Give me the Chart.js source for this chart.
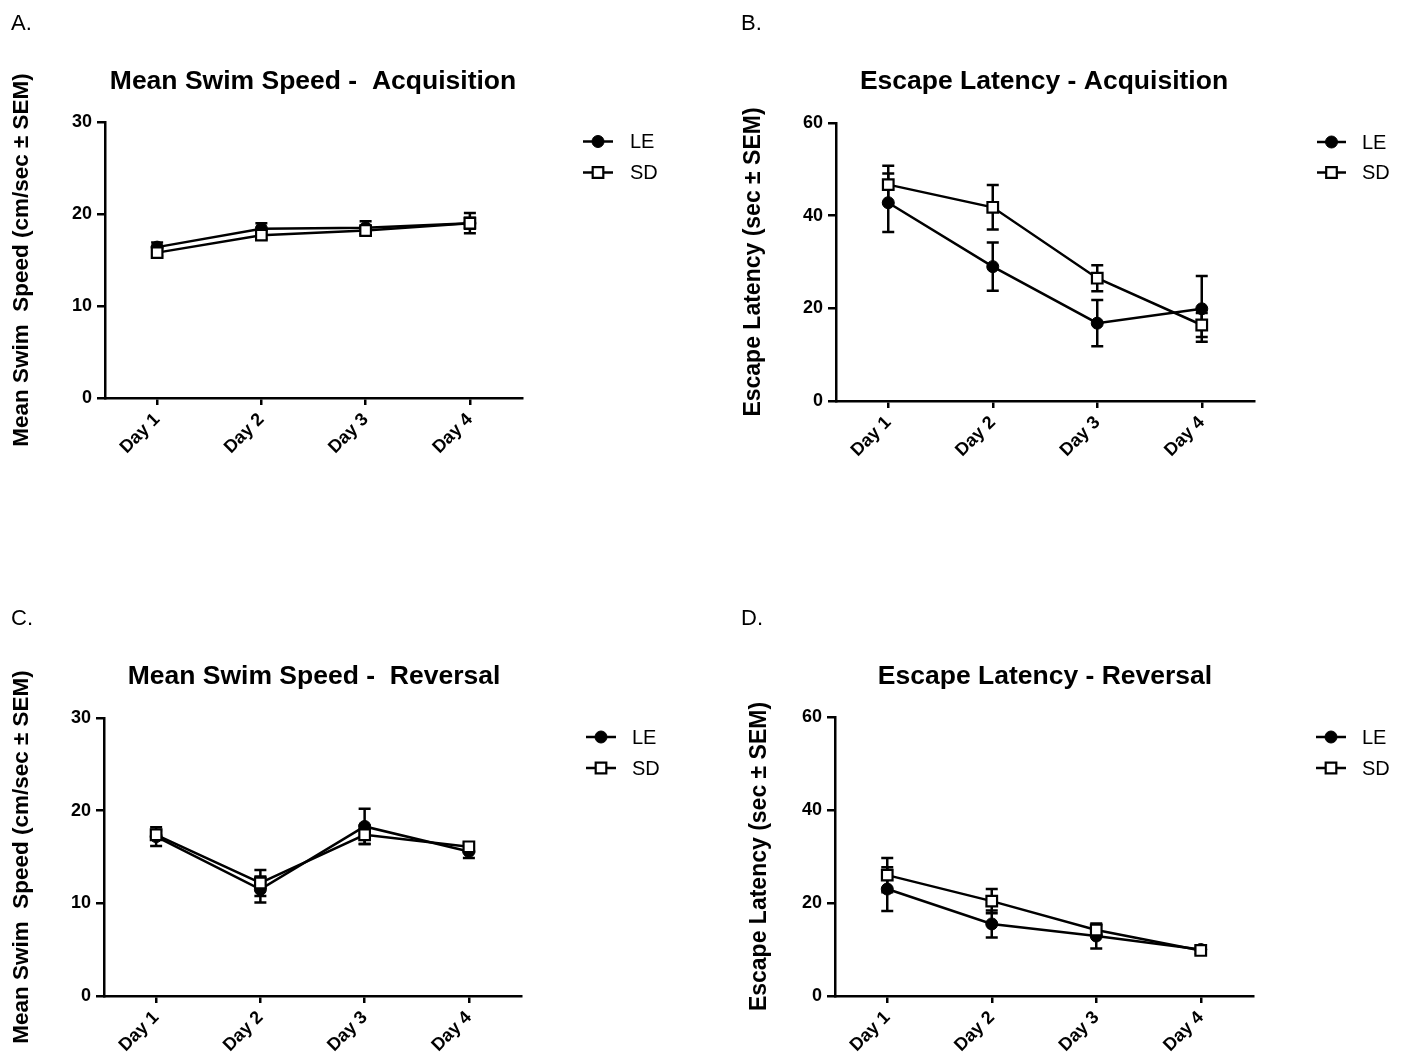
<!DOCTYPE html>
<html><head><meta charset="utf-8">
<script src="https://cdn.jsdelivr.net/npm/chart.js@4.4.1/dist/chart.umd.min.js"></script>
<style>
html,body{margin:0;padding:0;background:#fff;}
body{width:1410px;height:1061px;position:relative;overflow:hidden;}
canvas{position:absolute;}
</style></head><body>
<canvas id="cA" width="705" height="530" style="left:0px;top:0px"></canvas>
<canvas id="cB" width="705" height="530" style="left:705px;top:0px"></canvas>
<canvas id="cC" width="705" height="531" style="left:0px;top:530px"></canvas>
<canvas id="cD" width="705" height="531" style="left:705px;top:530px"></canvas>
<script>
// ---------------- DATA ----------------
const days = ['Day 1', 'Day 2', 'Day 3', 'Day 4'];
const seriesNames = ['LE', 'SD'];

// A. Mean Swim Speed - Acquisition (cm/sec)
const swimAcqLE = [16.4, 18.4, 18.5, 19.0];
const swimAcqLESem = [0.5, 0.6, 0.7, 0.6];
const swimAcqSD = [15.8, 17.7, 18.2, 19.0];
const swimAcqSDSem = [0.4, 0.4, 0.4, 1.1];

// B. Escape Latency - Acquisition (sec)
const latAcqLE = [42.8, 29.0, 16.8, 19.9];
const latAcqLESem = [6.3, 5.2, 5.0, 7.1];
const latAcqSD = [46.7, 41.8, 26.5, 16.4];
const latAcqSDSem = [4.1, 4.8, 2.8, 2.6];

// C. Mean Swim Speed - Reversal (cm/sec)
const swimRevLE = [17.2, 11.5, 18.3, 15.6];
const swimRevLESem = [1.0, 1.4, 1.9, 0.7];
const swimRevSD = [17.4, 12.2, 17.4, 16.1];
const swimRevSDSem = [0.5, 1.4, 1.0, 0.4];

// D. Escape Latency - Reversal (sec)
const latRevLE = [23.0, 15.5, 12.9, 10.0];
const latRevLESem = [4.7, 2.9, 2.7, 0.8];
const latRevSD = [26.0, 20.4, 14.2, 9.8];
const latRevSDSem = [3.7, 2.6, 1.0, 0.8];

const swimTicksMax = 30, swimTickStep = 10;
const latTicksMax = 60, latTickStep = 20;

// ---------------- LAYOUT ----------------
const FONT = "'Liberation Sans', Arial, Helvetica, sans-serif";
Chart.defaults.font.family = FONT;
Chart.defaults.color = '#000';

const panels = [
  {id:'cA', ox:0, oy:0, h:530, letter:'A.', title:'Mean Swim Speed -  Acquisition',
   yTitle:'Mean Swim  Speed (cm/sec \u00B1 SEM)', yTitleSize:22.5, yMax:swimTicksMax, yStep:swimTickStep,
   le:swimAcqLE, leSem:swimAcqLESem, sd:swimAcqSD, sdSem:swimAcqSDSem,
   area:{l:105,t:122,r:522,b:398}, yTitleX:22, titleX:313, titleY:89, letterX:11, letterY:30,
   leg:{x1:583, x2:613, tx:630, y1:141.5, y2:172.5}},
  {id:'cB', ox:705, oy:0, h:530, letter:'B.', title:'Escape Latency - Acquisition',
   yTitle:'Escape Latency (sec \u00B1 SEM)', yTitleSize:23, yMax:latTicksMax, yStep:latTickStep,
   le:latAcqLE, leSem:latAcqLESem, sd:latAcqSD, sdSem:latAcqSDSem,
   area:{l:836,t:123,r:1254,b:401}, yTitleX:754, titleX:1044, titleY:89, letterX:741, letterY:30,
   leg:{x1:1317, x2:1346, tx:1362, y1:142, y2:172.5}},
  {id:'cC', ox:0, oy:530, h:531, letter:'C.', title:'Mean Swim Speed -  Reversal',
   yTitle:'Mean Swim  Speed (cm/sec \u00B1 SEM)', yTitleSize:22.5, yMax:swimTicksMax, yStep:swimTickStep,
   le:swimRevLE, leSem:swimRevLESem, sd:swimRevSD, sdSem:swimRevSDSem,
   area:{l:104,t:718,r:521,b:996}, yTitleX:22, titleX:314, titleY:684, letterX:11, letterY:625,
   leg:{x1:586, x2:616, tx:632, y1:737, y2:768}},
  {id:'cD', ox:705, oy:530, h:531, letter:'D.', title:'Escape Latency - Reversal',
   yTitle:'Escape Latency (sec \u00B1 SEM)', yTitleSize:23, yMax:latTicksMax, yStep:latTickStep,
   le:latRevLE, leSem:latRevLESem, sd:latRevSD, sdSem:latRevSDSem,
   area:{l:835,t:717,r:1253,b:996}, yTitleX:760, titleX:1045, titleY:684, letterX:741, letterY:625,
   leg:{x1:1316, x2:1346, tx:1362, y1:737, y2:768}}
];

// ---------------- PLUGINS ----------------
const errorBars = {
  id: 'errorBars',
  beforeDatasetDraw(chart, args) {
    const ds = chart.data.datasets[args.index];
    if (!ds.sem) return;
    const ys = chart.scales.y, ctx = chart.ctx;
    ctx.save();
    ctx.strokeStyle = '#000';
    ctx.lineWidth = 2.5;
    args.meta.data.forEach((pt, i) => {
      const v = ds.data[i], e = ds.sem[i];
      const yT = ys.getPixelForValue(v + e), yB = ys.getPixelForValue(v - e);
      const x = pt.x, cw = 6;
      ctx.beginPath();
      ctx.moveTo(x, yT); ctx.lineTo(x, yB);
      ctx.moveTo(x - cw, yT); ctx.lineTo(x + cw, yT);
      ctx.moveTo(x - cw, yB); ctx.lineTo(x + cw, yB);
      ctx.stroke();
    });
    ctx.restore();
  }
};

const panelText = {
  id: 'panelText',
  afterDraw(chart, args, opts) {
    const p = opts.panel, ctx = chart.ctx;
    ctx.save();
    ctx.fillStyle = '#000';
    ctx.textBaseline = 'alphabetic';
    // panel letter
    ctx.font = '22px ' + FONT;
    ctx.textAlign = 'left';
    ctx.fillText(p.letter, p.letterX - p.ox, p.letterY - p.oy);
    // title
    ctx.font = 'bold 26.5px ' + FONT;
    ctx.textAlign = 'center';
    ctx.fillText(p.title, p.titleX - p.ox, p.titleY - p.oy);
    // legend
    const rows = [
      {name: seriesNames[0], y: p.leg.y1, style: 'circle', r: 6, fill: '#000', bw: 1},
      {name: seriesNames[1], y: p.leg.y2, style: 'rect', r: 7.5, fill: '#fff', bw: 2.2}
    ];
    rows.forEach(row => {
      const y = row.y - p.oy;
      ctx.strokeStyle = '#000';
      ctx.lineWidth = 2.5;
      ctx.beginPath();
      ctx.moveTo(p.leg.x1 - p.ox, y); ctx.lineTo(p.leg.x2 - p.ox, y);
      ctx.stroke();
      ctx.fillStyle = row.fill;
      ctx.lineWidth = row.bw;
      Chart.helpers.drawPoint(ctx, {pointStyle: row.style, radius: row.r, borderWidth: row.bw, rotation: 0},
        (p.leg.x1 + p.leg.x2) / 2 - p.ox, y);
      ctx.fillStyle = '#000';
      ctx.font = '20px ' + FONT;
      ctx.textAlign = 'left';
      ctx.textBaseline = 'middle';
      ctx.fillText(row.name, p.leg.tx - p.ox, y + 1);
    });
    ctx.restore();
  }
};

// ---------------- CHARTS ----------------
panels.forEach(p => {
  const W = 705, H = p.h;
  const xAxisH = 60;
  const yTitleLH = p.yTitleSize * 1.2;
  new Chart(document.getElementById(p.id), {
    type: 'line',
    data: {
      labels: days,
      datasets: [
        {label: seriesNames[0], data: p.le, sem: p.leSem, order: 2,
         borderColor: '#000', borderWidth: 2.5, tension: 0, fill: false,
         pointStyle: 'circle', pointRadius: 6, pointBackgroundColor: '#000',
         pointBorderColor: '#000', pointBorderWidth: 1},
        {label: seriesNames[1], data: p.sd, sem: p.sdSem, order: 1,
         borderColor: '#000', borderWidth: 2.5, tension: 0, fill: false,
         pointStyle: 'rect', pointRadius: 7.5, pointBackgroundColor: '#fff',
         pointBorderColor: '#000', pointBorderWidth: 2.2}
      ]
    },
    options: {
      responsive: false,
      animation: false,
      events: [],
      devicePixelRatio: 1,
      layout: {padding: {left: 0, top: p.area.t - p.oy, right: p.ox + W - p.area.r,
                         bottom: (p.oy + H) - p.area.b - xAxisH}},
      plugins: {
        legend: {display: false},
        title: {display: false},
        tooltip: {enabled: false},
        panelText: {panel: p}
      },
      scales: {
        x: {
          type: 'category',
          offset: true,
          afterFit(s) { s.height = xAxisH; },
          border: {display: true, color: '#000', width: 2.5},
          grid: {display: true, drawOnChartArea: false, drawTicks: true, offset: false,
                 tickLength: 7, color: '#000', lineWidth: 2.5},
          ticks: {font: {size: 18, weight: 'bold'}, color: '#000', minRotation: 45, maxRotation: 45,
                  padding: 4, autoSkip: false}
        },
        y: {
          type: 'linear',
          min: 0, max: p.yMax,
          afterFit(s) { s.width = p.area.l - p.ox; },
          border: {display: true, color: '#000', width: 2.5},
          grid: {display: true, drawOnChartArea: false, drawTicks: true,
                 tickLength: 8, color: '#000', lineWidth: 2.5},
          ticks: {stepSize: p.yStep, font: {size: 18, weight: 'bold'}, color: '#000', padding: 5},
          title: {display: true, text: p.yTitle, color: '#000',
                  font: {size: p.yTitleSize, weight: 'bold'},
                  padding: {top: p.yTitleX - p.ox - yTitleLH / 2, bottom: 0}}
        }
      }
    },
    plugins: [errorBars, panelText]
  });
});
</script>
</body></html>
